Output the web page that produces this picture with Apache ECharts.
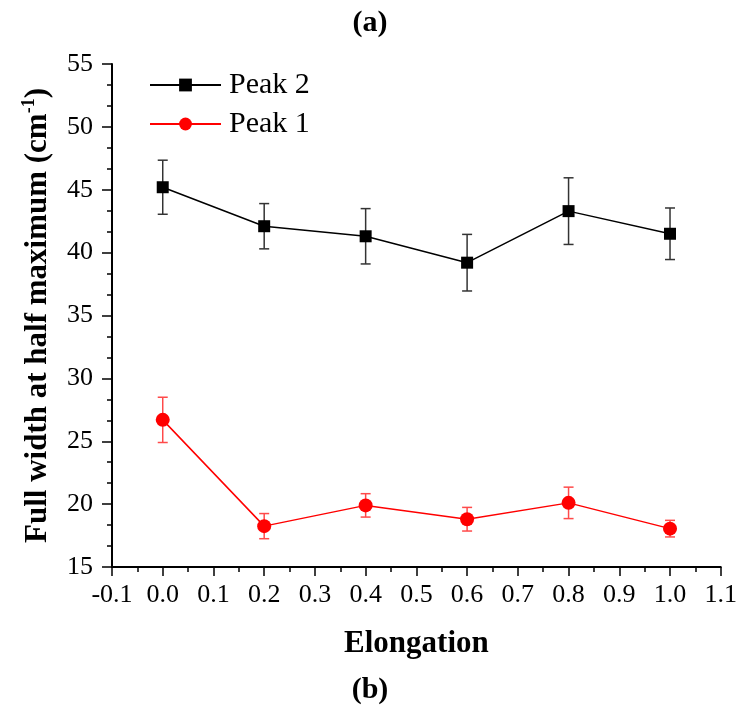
<!DOCTYPE html>
<html>
<head>
<meta charset="utf-8">
<script src="https://cdn.jsdelivr.net/npm/echarts@6/dist/echarts.min.js"></script>
<style>
  html, body { margin: 0; padding: 0; background: #fff; }
  #chart { width: 740px; height: 706px; }
</style>
</head>
<body>
<div id="chart"></div>
<script>
// Elongation values (x) and FWHM of each peak with its error
const elongation = [0.0, 0.2, 0.4, 0.6, 0.8, 1.0];
const peak2 = [45.2, 42.1, 41.3, 39.2, 43.3, 41.5];
const peak2Err = [2.15, 1.8, 2.2, 2.25, 2.65, 2.05];
const peak1 = [26.7, 18.25, 19.9, 18.8, 20.1, 18.05];
const peak1Err = [1.8, 1.0, 0.93, 0.94, 1.25, 0.66];

const FONT = '"Liberation Serif", "Times New Roman", serif';

const lineData = (ys) => elongation.map((x, i) => [x, ys[i]]);
const errData = (ys, es) => elongation.map((x, i) => [x, ys[i] - es[i], ys[i] + es[i]]);

// whisker with caps for each point
function errorBarRenderer(color) {
  return function (params, api) {
    const x = api.value(0);
    const lo = api.coord([x, api.value(1)]);
    const hi = api.coord([x, api.value(2)]);
    const half = 5;
    const style = { stroke: color, lineWidth: 1.5 };
    return {
      type: 'group',
      children: [
        { type: 'line', shape: { x1: lo[0], y1: lo[1], x2: hi[0], y2: hi[1] }, style },
        { type: 'line', shape: { x1: hi[0] - half, y1: hi[1], x2: hi[0] + half, y2: hi[1] }, style },
        { type: 'line', shape: { x1: lo[0] - half, y1: lo[1], x2: lo[0] + half, y2: lo[1] }, style }
      ]
    };
  };
}

const chart = echarts.init(document.getElementById('chart'), null, { renderer: 'canvas' });

chart.setOption({
  animation: false,
  backgroundColor: '#fff',
  title: [
    { text: '(a)', left: 'center', top: 3,
      textStyle: { fontFamily: FONT, fontWeight: 'bold', fontSize: 30, color: '#000' } },
    { text: '(b)', left: 'center', top: 670,
      textStyle: { fontFamily: FONT, fontWeight: 'bold', fontSize: 30, color: '#000' } }
  ],
  legend: {
    orient: 'vertical',
    left: 144,
    top: 65,
    itemWidth: 71,
    itemHeight: 16,
    itemGap: 9,
    data: ['Peak 2', 'Peak 1'],
    textStyle: { fontFamily: FONT, fontSize: 30, color: '#000', lineHeight: 30, padding: [0, 0, 0, 3] }
  },
  grid: { left: 112, right: 15, top: 64, bottom: 139, containLabel: false },
  xAxis: {
    type: 'value',
    min: -0.1,
    max: 1.1,
    interval: 0.1,
    name: 'Elongation',
    nameLocation: 'middle',
    nameGap: 61,
    nameTextStyle: { fontFamily: FONT, fontWeight: 'bold', fontSize: 31, color: '#000' },
    axisLine: { onZero: false, lineStyle: { color: '#000', width: 2 } },
    axisTick: { inside: false, length: 9, lineStyle: { color: '#000', width: 1.5 } },
    minorTick: { show: true, splitNumber: 2, length: 5, lineStyle: { color: '#000', width: 1.5 } },
    splitLine: { show: false },
    axisLabel: {
      fontFamily: FONT, fontSize: 26, color: '#000', margin: 15,
      formatter: (v) => v.toFixed(1)
    }
  },
  yAxis: {
    type: 'value',
    min: 15,
    max: 55,
    interval: 5,
    name: '{t|Full width at half maximum (cm}{s|-1}{t|)}',
    nameLocation: 'middle',
    nameGap: 56,
    nameTextStyle: {
      fontFamily: FONT, fontWeight: 'bold', color: '#000',
      rich: {
        t: { fontFamily: FONT, fontWeight: 'bold', fontSize: 31, color: '#000', lineHeight: 36 },
        s: { fontFamily: FONT, fontWeight: 'bold', fontSize: 18, color: '#000', lineHeight: 18, verticalAlign: 'top' }
      }
    },
    axisLine: { show: true, onZero: false, lineStyle: { color: '#000', width: 2 } },
    axisTick: { inside: false, length: 10, lineStyle: { color: '#000', width: 1.5 } },
    minorTick: { show: true, splitNumber: 3, length: 5, lineStyle: { color: '#000', width: 1.5 } },
    splitLine: { show: false },
    axisLabel: { fontFamily: FONT, fontSize: 26, color: '#000', margin: 19 }
  },
  series: [
    {
      name: 'Peak 2 error',
      type: 'custom',
      renderItem: errorBarRenderer('#333'),
      data: errData(peak2, peak2Err),
      encode: { x: 0, y: [1, 2] },
      z: 1,
      silent: true
    },
    {
      name: 'Peak 1 error',
      type: 'custom',
      renderItem: errorBarRenderer('#ff4a4a'),
      data: errData(peak1, peak1Err),
      encode: { x: 0, y: [1, 2] },
      z: 1,
      silent: true
    },
    {
      name: 'Peak 2',
      type: 'line',
      data: lineData(peak2),
      symbol: 'rect',
      symbolSize: 12,
      itemStyle: { color: '#000' },
      lineStyle: { color: '#000', width: 1.5 },
      z: 3
    },
    {
      name: 'Peak 1',
      type: 'line',
      data: lineData(peak1),
      symbol: 'circle',
      symbolSize: 14,
      itemStyle: { color: '#ff0000' },
      lineStyle: { color: '#ff0000', width: 1.5 },
      z: 3
    }
  ]
});
</script>
</body>
</html>
